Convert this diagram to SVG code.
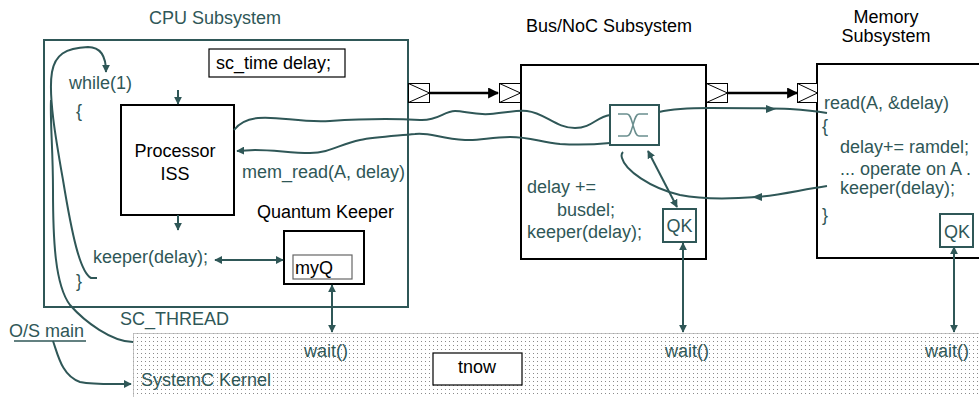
<svg xmlns="http://www.w3.org/2000/svg" width="979" height="397" viewBox="0 0 979 397">
<style>
text{font-family:"Liberation Sans",Arial,sans-serif;font-size:18px}
.t{fill:#2f5757}
.k{fill:#000}
.tl{fill:none;stroke:#2f5757;stroke-width:2}
.bk{fill:#fff;stroke:#000;stroke-width:2}
.port{fill:#fff;stroke:#000;stroke-width:1}
.ah{fill:#2f5757}
</style>
<defs>
<marker id="a" viewBox="0 0 10 10" refX="9" refY="5" markerWidth="8" markerHeight="8" markerUnits="userSpaceOnUse" orient="auto-start-reverse">
<path d="M0,0 L10,5 L0,10 z" fill="#2f5757"/>
</marker>
<marker id="ab" viewBox="0 0 10 10" refX="9" refY="5" markerWidth="11" markerHeight="11" markerUnits="userSpaceOnUse" orient="auto">
<path d="M0,0 L10,5 L0,10 z" fill="#000"/>
</marker>
<pattern id="dots" width="4" height="4" patternUnits="userSpaceOnUse">
<rect width="4" height="4" fill="#fff"/>
<rect x="1" y="1" width="1" height="1" fill="#8a8a8a"/>
</pattern>
</defs>

<g id="kernel">
<rect x="133.5" y="333.5" width="860" height="80" fill="url(#dots)" stroke="#888" stroke-width="1" stroke-dasharray="1 1"/>
<text class="t" x="304" y="357">wait()</text>
<text class="t" x="665" y="357">wait()</text>
<text class="t" x="925" y="357">wait()</text>
<text class="t" x="141" y="386">SystemC Kernel</text>
</g>
<g id="tnow">
<rect x="433" y="353" width="89" height="32" fill="#fff" stroke="#000" stroke-width="1.2"/>
<text class="k" x="477" y="373" text-anchor="middle">tnow</text>
</g>

<g id="cpu">
<text class="t" x="215" y="24" text-anchor="middle">CPU Subsystem</text>
<rect x="44" y="40" width="364" height="267" fill="none" stroke="#2f5757" stroke-width="2"/>
<text class="t" x="69" y="89">while(1)</text>
<text class="t" x="76" y="117">{</text>
<text class="t" x="93" y="263">keeper(delay);</text>
<text class="t" x="76" y="287">}</text>
<text class="t" x="242" y="178">mem_read(A, delay)</text>
<text class="t" x="120" y="325">SC_THREAD</text>
</g>
<g id="sctime">
<rect x="209" y="49" width="136" height="28" fill="#fff" stroke="#000" stroke-width="1.2"/>
<text class="k" x="216" y="69">sc_time delay;</text>
</g>
<g id="processor">
<rect class="bk" x="121" y="105" width="113" height="110"/>
<text class="k" x="175" y="157" text-anchor="middle">Processor</text>
<text class="k" x="175" y="180" text-anchor="middle">ISS</text>
</g>
<g id="quantum-keeper">
<text class="k" x="257" y="218">Quantum Keeper</text>
<rect class="bk" x="284" y="231" width="80" height="53"/>
<rect x="293" y="255" width="59" height="24" fill="#fff" stroke="#666" stroke-width="1.2"/>
<text class="k" x="295" y="274">myQ</text>
</g>
<g id="cpu-port">
<rect class="port" x="408.5" y="83.5" width="21" height="19"/>
<polyline points="408.5,83.5 429.5,93 408.5,102.5" fill="none" stroke="#000"/>
</g>

<g id="bus">
<text class="k" x="609" y="32" text-anchor="middle">Bus/NoC Subsystem</text>
<rect class="bk" x="521" y="65" width="185" height="194"/>
<rect class="port" x="499.5" y="83.5" width="21" height="19"/>
<polyline points="499.5,83.5 520.5,93 499.5,102.5" fill="none" stroke="#000"/>
<rect class="port" x="706.5" y="83.5" width="21" height="19"/>
<polyline points="706.5,83.5 727.5,93 706.5,102.5" fill="none" stroke="#000"/>
<text class="t" x="527" y="193">delay +=</text>
<text class="t" x="557" y="216">busdel;</text>
<text class="t" x="527" y="238">keeper(delay);</text>
</g>
<g id="crossbar">
<rect x="610" y="105" width="49" height="40" fill="#fff" stroke="#2f5757" stroke-width="2"/>
<path d="M618,114 L627,114 C630,114 631,118 633,125 C635,132 636,136 639,136 L648,136 M648,114 L639,114 C636,114 635,118 633,125 C631,132 630,136 627,136 L618,136" fill="none" stroke="#6a8e8e" stroke-width="1.5"/>
</g>
<g id="bus-qk">
<rect x="663" y="209" width="33" height="33" fill="#fff" stroke="#2f5757" stroke-width="2"/>
<text class="t" x="679.5" y="232" text-anchor="middle">QK</text>
</g>

<g id="memory">
<text class="k" x="886" y="23" text-anchor="middle">Memory</text>
<text class="k" x="886" y="42" text-anchor="middle">Subsystem</text>
<rect class="bk" x="817" y="64" width="200" height="194"/>
<rect class="port" x="797.5" y="83.5" width="20" height="19"/>
<polyline points="797.5,83.5 817.5,93 797.5,102.5" fill="none" stroke="#000"/>
<text class="t" x="824" y="109">read(A, &amp;delay)</text>
<text class="t" x="822" y="132">{</text>
<text class="t" x="840" y="153">delay+= ramdel;</text>
<text class="t" x="840" y="175">... operate on A .</text>
<text class="t" x="840" y="194">keeper(delay);</text>
<text class="t" x="822" y="221">}</text>
</g>
<g id="mem-qk">
<rect x="940" y="214" width="33" height="33" fill="#fff" stroke="#2f5757" stroke-width="2"/>
<text class="t" x="957" y="238" text-anchor="middle">QK</text>
</g>

<g id="os-main">
<text class="t" x="9" y="337">O/S main</text>
<line x1="14" y1="341" x2="86" y2="341" stroke="#2f5757" stroke-width="1.5"/>
</g>

<g id="connectors">
<line x1="429" y1="93" x2="498" y2="93" stroke="#000" stroke-width="2.5" marker-end="url(#ab)"/>
<line x1="727" y1="93" x2="797" y2="93" stroke="#000" stroke-width="2.5" marker-end="url(#ab)"/>
<line class="tl" x1="178" y1="90" x2="178" y2="104" marker-end="url(#a)"/>
<line class="tl" x1="178" y1="215" x2="178" y2="230" marker-end="url(#a)"/>
<line class="tl" x1="215" y1="260" x2="283" y2="260" marker-start="url(#a)" marker-end="url(#a)"/>
<line class="tl" x1="332" y1="285" x2="332" y2="332" marker-start="url(#a)" marker-end="url(#a)"/>
<line class="tl" x1="683" y1="243" x2="683" y2="332" marker-start="url(#a)" marker-end="url(#a)"/>
<line class="tl" x1="954" y1="247" x2="954" y2="332" marker-start="url(#a)" marker-end="url(#a)"/>
<line class="tl" x1="648" y1="151" x2="677" y2="207" marker-start="url(#a)" marker-end="url(#a)"/>
<path class="tl" d="M234,130 C240,122 248,119 258,118 C280,116 300,123 330,121 C360,119 385,118 420,120 C438,121 444,111 455,111 C465,111 472,115 490,114 C505,113 515,110 527,111 C545,113 556,128 575,128 C592,128 596,117 610,115"/>
<path class="tl" d="M610,143 C590,145 575,145 560,144 C540,142 530,137 510,137 C490,137 480,141 465,140 C440,139 430,132 415,134 C395,136 375,137 360,140 C340,144 330,153 310,153 C290,153 275,150 255,150 L237,151" marker-end="url(#a)"/>
<path class="tl" d="M659,112 C672,109 690,108 710,108 C740,108 770,108 790,109 C805,110 815,111 827,113"/>
<polygon class="ah" points="776,109 766,105 766,113"/>
<path class="tl" d="M827,186 C800,190 780,195 757,197 C730,199 700,199 680,195 C650,188 625,170 622,158 C621,155 622,153 623,152"/>
<polygon class="ah" points="752,197 762,193 762,201"/>
<path class="tl" d="M97,278 L91,278 C80,272 72,235 63,180 C56,140 48,95 52,72 C55,55 65,48 88,47 C100,47 106,55 106,72" marker-end="url(#a)"/>
<path class="tl" d="M133,342 C112,342 85,322 70,305 C55,285 53,240 53,190 C53,150 50,120 51,100"/>
<path class="tl" d="M53,341 C58,355 62,376 80,382 C95,385 115,384 131,384" marker-end="url(#a)"/>
</g>
</svg>
